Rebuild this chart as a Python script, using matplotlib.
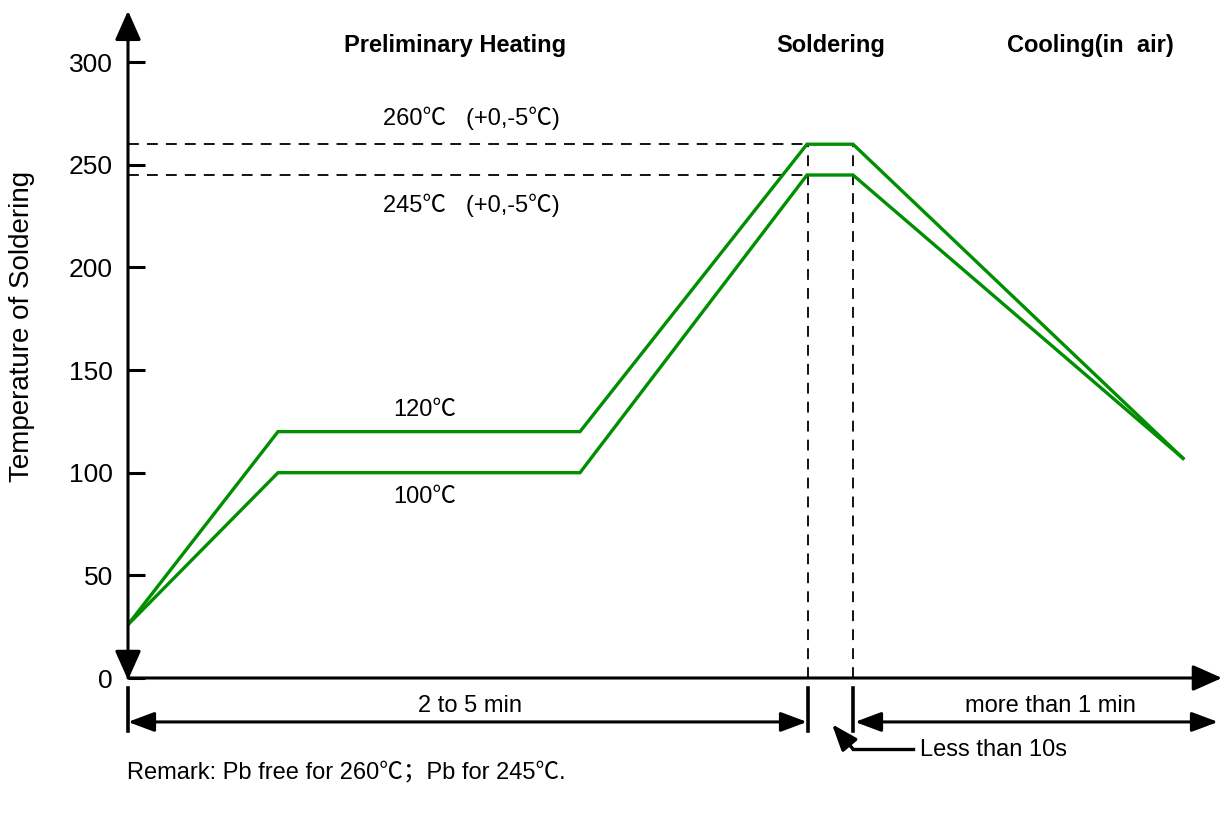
import matplotlib
matplotlib.use('Agg')
import matplotlib.pyplot as plt

plt.rcParams['font.family'] = ['Liberation Sans', 'Noto Sans CJK SC']

# time axis is arbitrary (schematic), temperature in degC
time_pts = [0, 150, 452, 679, 725, 1055]
temp_high = [26, 120, 120, 260, 260, 107]
temp_low = [26, 100, 100, 245, 245, 107]
y_ticks = [0, 50, 100, 150, 200, 250, 300]
peak_levels = [260, 245]
solder_window = [680, 725]
x_end = 1094
y_top = 325

green = '#008f00'

fig = plt.figure(figsize=(12.27, 8.13), dpi=100)
ax = fig.add_axes([128 / 1227, 135 / 813, 1099 / 1227, 678 / 813])
ax.set_xlim(0, 1099)
ax.set_ylim(0, 678 / 2.053)
for s in ax.spines.values():
    s.set_visible(False)

ax.set_xticks([])
ax.set_yticks(y_ticks)
ax.tick_params(axis='y', direction='in', length=12, width=2.2, pad=11, labelsize=19)

# axes with arrows
ax.annotate('', xy=(0, y_top), xytext=(0, -1),
            arrowprops=dict(arrowstyle='<|-|>,head_length=0.9,head_width=0.4',
                            mutation_scale=20, lw=2.2, color='black', shrinkA=0, shrinkB=0),
            annotation_clip=False)
ax.annotate('', xy=(x_end, 0), xytext=(0, 0),
            arrowprops=dict(arrowstyle='-|>,head_length=0.9,head_width=0.4',
                            mutation_scale=20, lw=2.2, color='black', shrinkA=0, shrinkB=0),
            annotation_clip=False)

# reference dashed lines
for lv in peak_levels:
    ax.plot([0, solder_window[0]], [lv, lv], color='black', lw=1.3, ls=(0, (6, 4.5)))
for xv in solder_window:
    ax.plot([xv, xv], [0, peak_levels[0]], color='black', lw=1.3, ls=(0, (6, 4.5)))

# profiles
ax.plot(time_pts, temp_high, color=green, lw=2.4, solid_joinstyle='miter')
ax.plot(time_pts, temp_low, color=green, lw=2.4, solid_joinstyle='miter')

# dimension marks below the axis
for xv in [0] + solder_window:
    ax.plot([xv, xv], [-5, -26], color='black', lw=2.6, clip_on=False)
ax.annotate('', xy=(0, -21.4), xytext=(solder_window[0] - 1, -21.4),
            arrowprops=dict(arrowstyle='<|-|>,head_length=0.8,head_width=0.3',
                            mutation_scale=20, lw=2.2, color='black', shrinkA=0, shrinkB=0),
            annotation_clip=False)
ax.annotate('', xy=(solder_window[1] + 2, -21.4), xytext=(1090, -21.4),
            arrowprops=dict(arrowstyle='<|-|>,head_length=0.8,head_width=0.3',
                            mutation_scale=20, lw=2.2, color='black', shrinkA=0, shrinkB=0),
            annotation_clip=False)
ax.plot([785, 725], [-34.6, -34.6], color='black', lw=2.4, clip_on=False)
ax.annotate('', xy=(704, -22.5), xytext=(725, -34.6),
            arrowprops=dict(arrowstyle='-|>,head_length=0.8,head_width=0.3',
                            mutation_scale=20, lw=2.4, color='black', shrinkA=0, shrinkB=0),
            annotation_clip=False)

# texts
fs = 17
ax.text(327, 308.3, 'Preliminary Heating', ha='center', va='center', fontsize=17, fontweight='bold')
ax.text(703, 308.3, 'Soldering', ha='center', va='center', fontsize=17, fontweight='bold')
ax.text(962, 308.3, 'Cooling(in  air)', ha='center', va='center', fontsize=17, fontweight='bold')
ax.text(255, 272.8, '260℃   (+0,-5℃)', ha='left', va='center', fontsize=fs)
ax.text(255, 230.4, '245℃   (+0,-5℃)', ha='left', va='center', fontsize=fs)
ax.text(265, 130.5, '120℃', ha='left', va='center', fontsize=fs)
ax.text(265, 88.2, '100℃', ha='left', va='center', fontsize=fs)
ax.text(342, -13.6, '2 to 5 min', ha='center', va='center', fontsize=fs)
ax.text(922, -13.6, 'more than 1 min', ha='center', va='center', fontsize=fs)
ax.text(792, -35, 'Less than 10s', ha='left', va='center', fontsize=fs)
ax.text(-1, -46, 'Remark: Pb free for 260℃；Pb for 245℃.', ha='left', va='center', fontsize=fs)
ax.text(-106, 171, 'Temperature of Soldering', ha='center', va='center', rotation=90, fontsize=20)

fig.savefig('out.png', dpi=100)
